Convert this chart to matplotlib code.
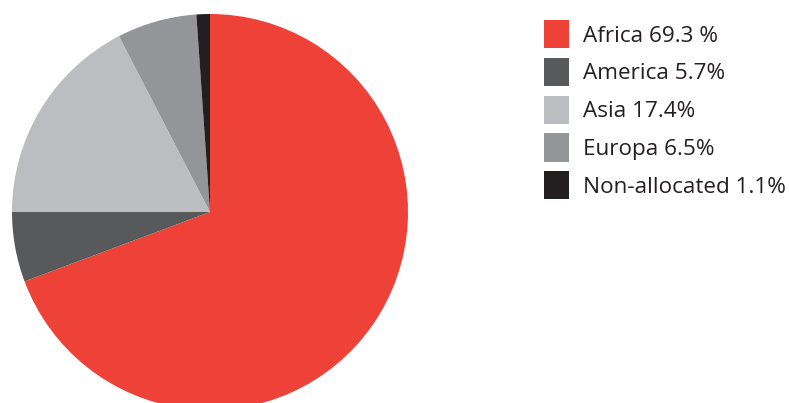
import matplotlib
matplotlib.use("Agg")
import matplotlib.pyplot as plt

regions = ["Africa", "America", "Asia", "Europa", "Non-allocated"]
shares = [69.3, 5.7, 17.4, 6.5, 1.1]
labels = ["Africa 69.3 %", "America 5.7%", "Asia 17.4%", "Europa 6.5%", "Non-allocated 1.1%"]
colors = ["#EE4137", "#58595B", "#BCBDC0", "#939598", "#231F20"]

plt.rcParams["font.family"] = ["Open Sans", "DejaVu Sans"]

W, H = 789, 403
fig = plt.figure(figsize=(W / 100, H / 100), dpi=100)

# pie centre (210, 212) px from top-left, radius ~198 px
cx, cy, r = 210, 212, 198
ax = fig.add_axes([(cx - r) / W, (H - cy - r) / H, 2 * r / W, 2 * r / H])
wedges, _ = ax.pie(shares, colors=colors, startangle=90, counterclock=False,
                   radius=1, wedgeprops=dict(linewidth=0))
ax.set_xlim(-1, 1)
ax.set_ylim(-1, 1)
ax.set_aspect("equal")
ax.axis("off")

fs = 16.2
fig.legend(wedges, labels, loc="upper left", bbox_to_anchor=(544 / W, 1 - 20 / H),
           frameon=False, fontsize=fs, handlelength=1.12, handleheight=1.56,
           handletextpad=0.62, labelspacing=0.42, borderpad=0, borderaxespad=0,
           labelcolor="#231F20")

fig.savefig("out.png", dpi=100)
